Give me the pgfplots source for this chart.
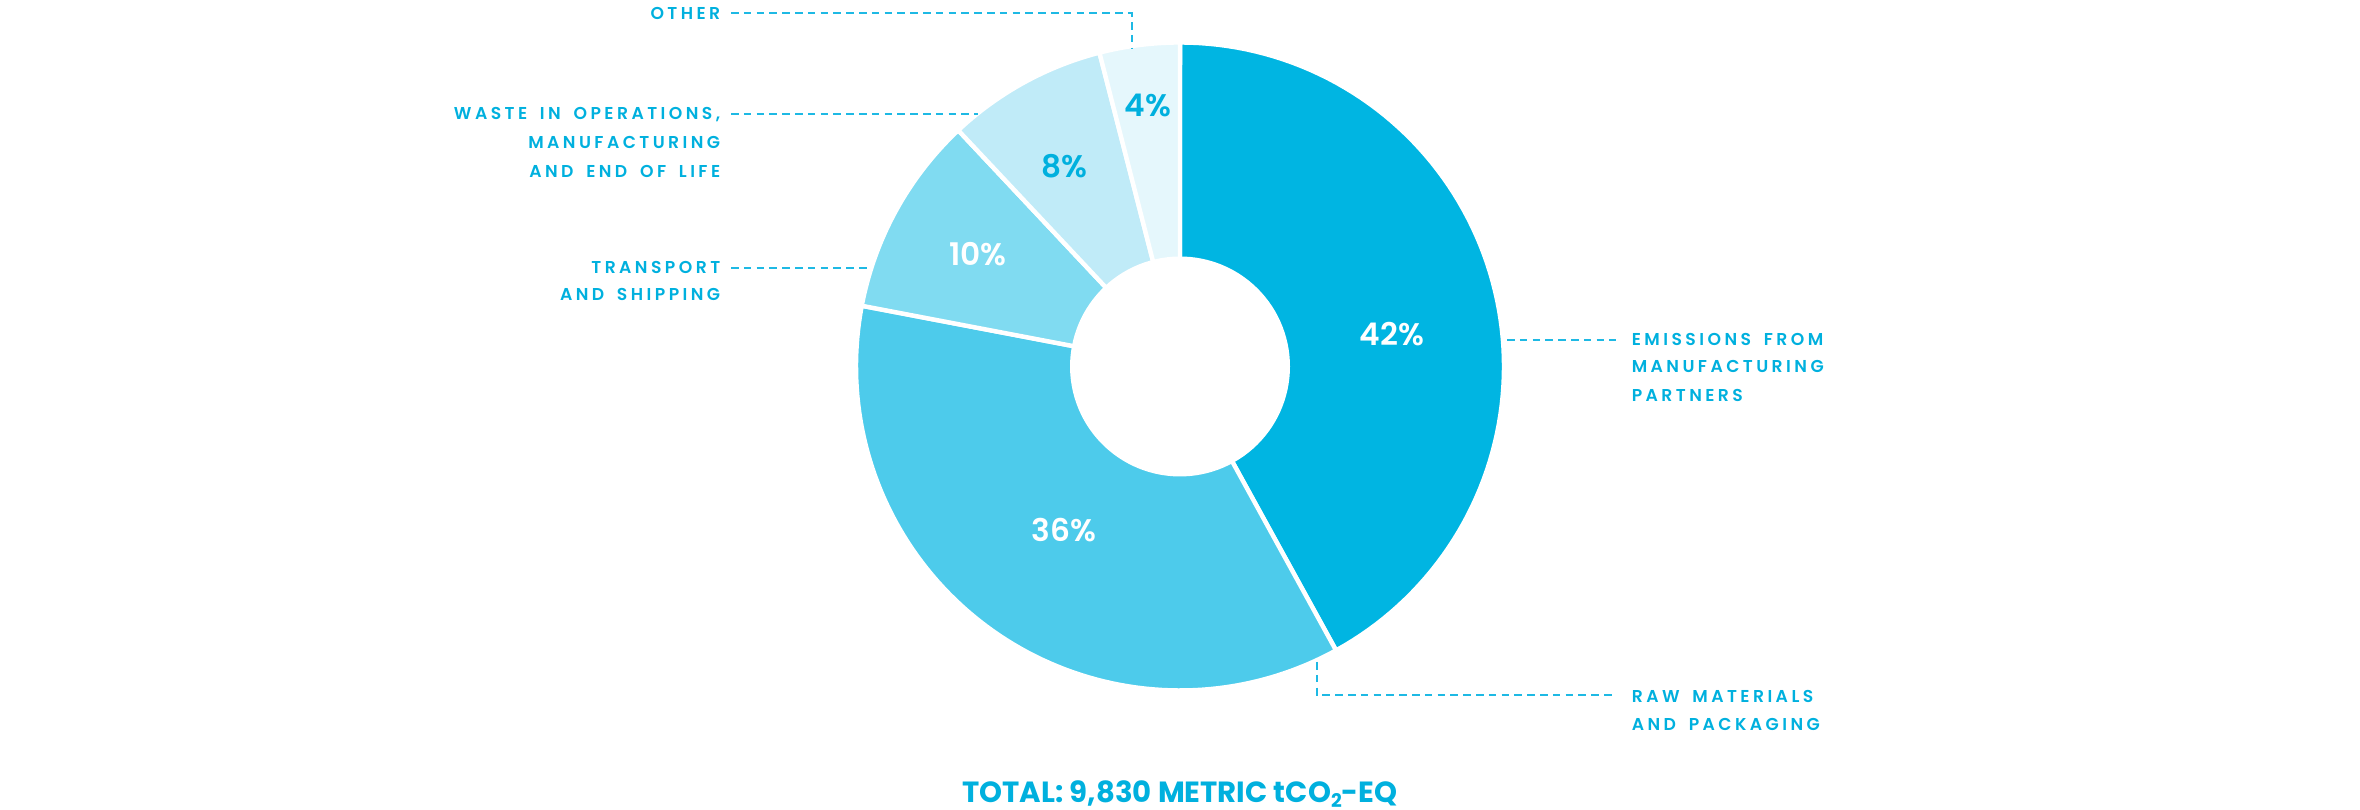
\documentclass[border=0pt]{standalone}
\usepackage{pgfplots}
\pgfplotsset{compat=1.18}
\usepackage{pgfplotstable}
\usepackage{fontspec}
\setmainfont{Poppins}
\newfontfamily\labfont{Poppins SemiBold}[LetterSpace=20, WordSpace=1.7]
\newfontfamily\pctfont{Poppins SemiBold}
\newfontfamily\ttlfont{Poppins Bold}
\definecolor{slice0}{RGB}{0,181,226}
\definecolor{slice1}{RGB}{77,203,235}
\definecolor{slice2}{RGB}{128,219,241}
\definecolor{slice3}{RGB}{192,235,248}
\definecolor{slice4}{RGB}{229,247,252}
\definecolor{txtblue}{RGB}{0,176,222}
\definecolor{leader}{RGB}{30,185,228}
\pgfplotstableread{
label value
Emissions 42
Raw 36
Transport 10
Waste 8
Other 4
}\datatable
\begin{document}
\begin{tikzpicture}
\begin{axis}[width=590pt, height=202.5pt, scale only axis,
  xmin=0, xmax=2360, ymin=0, ymax=810, axis lines=none, clip=false]
\path (axis cs:0,0) (axis cs:2360,810);
\def\cum{0}
\pgfplotsforeachungrouped \i in {0,...,4}{%
  \pgfplotstablegetelem{\i}{value}\of\datatable
  \let\val\pgfplotsretval
  \pgfmathsetmacro\a{90-3.6*\cum}%
  \pgfmathsetmacro\b{90-3.6*(\cum+\val)}%
  \pgfmathsetmacro\cum{\cum+\val}%
  \edef\temp{\noexpand\addplot[fill=slice\i, draw=white, line width=1.1pt, domain=\b:\a, samples=90]
    ({1180+324*cos(x)},{443.5+324*sin(x)}) -- (axis cs:1180,443.5) -- cycle;}%
  \temp
}
\addplot[fill=white, draw=none, domain=0:360, samples=120] ({1180+110*cos(x)},{443.5+110*sin(x)}) -- cycle;
% percent labels
\tikzset{pct/.style={font=\pctfont\fontsize{7.8}{8}\selectfont}}
\node[pct, text=white] at (axis cs:1392,476) {42\%};
\node[pct, text=white] at (axis cs:1064,280) {36\%};
\node[pct, text=white] at (axis cs:978,556) {10\%};
\node[pct, text=txtblue] at (axis cs:1064,644) {8\%};
\node[pct, text=txtblue] at (axis cs:1148,705) {4\%};
% leader lines
\tikzset{lead/.style={draw=leader, line width=0.5pt, dash pattern=on 1.9pt off 1.3pt}}
\draw[lead] (axis cs:731,796.5) -- (axis cs:1132,796.5) -- (axis cs:1132,762);
\draw[lead] (axis cs:731,696) -- (axis cs:978,696);
\draw[lead] (axis cs:731,542) -- (axis cs:870,542);
\draw[lead] (axis cs:1507,470) -- (axis cs:1616,470);
\draw[lead] (axis cs:1317,148) -- (axis cs:1317,115) -- (axis cs:1616,115);
% text labels
\tikzset{lab/.style={font=\labfont\fontsize{4.3}{5}\selectfont, text=txtblue, inner sep=0pt}}
\node[lab, anchor=base east] at (axis cs:721,790.5) {OTHER};
\node[lab, anchor=base east] at (axis cs:721,690) {WASTE IN OPERATIONS,};
\node[lab, anchor=base east] at (axis cs:721,661) {MANUFACTURING};
\node[lab, anchor=base east] at (axis cs:721,632.5) {AND END OF LIFE};
\node[lab, anchor=base east] at (axis cs:721,536) {TRANSPORT};
\node[lab, anchor=base east] at (axis cs:721,509) {AND SHIPPING};
\node[lab, anchor=base west] at (axis cs:1631,464) {EMISSIONS FROM};
\node[lab, anchor=base west] at (axis cs:1631,437) {MANUFACTURING};
\node[lab, anchor=base west] at (axis cs:1631,408) {PARTNERS};
\node[lab, anchor=base west] at (axis cs:1631,107) {RAW MATERIALS};
\node[lab, anchor=base west] at (axis cs:1631,79) {AND PACKAGING};
\node[font=\ttlfont\fontsize{7.3}{8}\selectfont, text=txtblue, inner sep=0pt, anchor=base] at (axis cs:1180,7) {TOTAL: 9,830 METRIC tCO\raisebox{-0.25ex}{\fontsize{4.7}{5}\selectfont 2}-EQ};
\end{axis}
\end{tikzpicture}
\end{document}
